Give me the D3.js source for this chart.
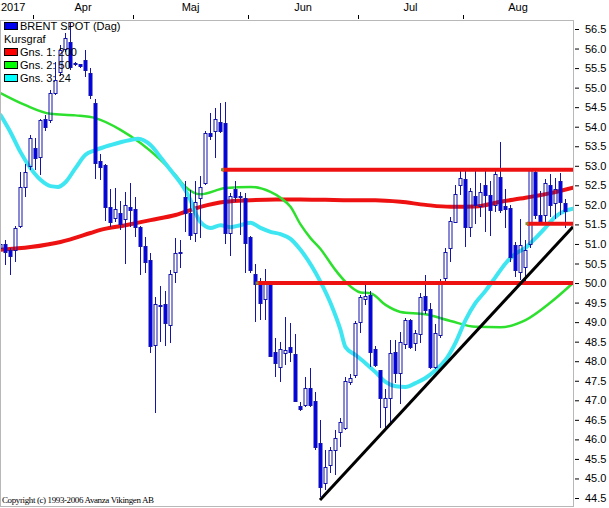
<!DOCTYPE html>
<style>
  body { margin: 0; background: white; }
  svg { display: block; font-family: Arial, "Liberation Sans", sans-serif; }
  .wick { stroke: #1414a8; stroke-width: 1; }
  .up { fill: none; stroke: #1414a8; }
  .down { fill: #0000f0; stroke: #1414a8; }
  .ma { fill: none; stroke-linejoin: round; stroke-linecap: round; }
  .yaxis text { font-size: 11px; fill: #000; }
  .yaxis line { stroke: #000; }
  .legend text { font-size: 11px; fill: #000; }
</style>
<body>
</body>
<script src="https://cdn.jsdelivr.net/npm/d3@7/dist/d3.min.js"></script>
<script>
  // trading days 23 Mar - 29 Aug 2017 (weekdays)
  const days = d3.utcDay.range(new Date(Date.UTC(2017, 2, 23)), new Date(Date.UTC(2017, 7, 30)))
    .filter(d => d.getUTCDay() !== 0 && d.getUTCDay() !== 6);

  const monthLabels = ['Apr', 'Maj', 'Jun', 'Jul', 'Aug'];
  const yearLabel = '2017';
  const yTicks = [44.5, 45.0, 45.5, 46.0, 46.5, 47.0, 47.5, 48.0, 48.5, 49.0, 49.5, 50.0,
                  50.5, 51.0, 51.5, 52.0, 52.5, 53.0, 53.5, 54.0, 54.5, 55.0, 55.5, 56.0, 56.5];

  const open = [
    50.9, 51.0, 50.85, 50.85, 51.45, 52.45, 53.0, 53.45, 53.23, 54.2,
    54.17, 54.86, 55.4, 56.0, 56.17, 55.6, 55.6, 55.7, 55.37, 54.6,
    53.13, 53.02, 51.95, 51.66, 51.8, 51.63, 51.95, 51.9, 51.43, 50.95,
    50.6, 48.41, 49.45, 49.46, 48.93, 50.29, 50.8, 52.2, 51.8, 51.28,
    52.17, 52.56, 53.85, 53.9, 54.12, 54.1, 51.28, 52.4, 52.23, 52.18,
    51.18, 50.23, 50.0, 49.6, 50.03, 48.24, 47.85, 48.2, 48.36, 48.18,
    46.85, 46.88, 47.31, 46.98, 45.9, 44.89, 45.34, 45.73, 46.2, 46.3,
    47.47, 47.64, 49.0, 49.6, 49.7, 48.3, 47.77, 46.82, 47.05, 48.23,
    47.7, 48.43, 49.05, 48.47, 48.7, 49.67, 49.33, 47.85, 48.67, 50.13,
    50.9, 51.55, 52.5, 52.66, 51.43, 52.23, 51.97, 52.5, 52.25, 52.0,
    52.72, 51.97, 51.93, 50.98, 50.27, 50.4, 51.0, 52.85, 51.73, 51.74,
    52.5, 52.05, 52.6, 52.06
  ];
  const close = [
    51.0, 50.8, 50.7, 51.4, 52.45, 52.85, 53.7, 53.2, 54.17, 53.98,
    54.86, 55.2, 55.96, 56.27, 55.53, 55.62, 55.55, 55.45, 54.8, 53.08,
    52.98, 51.95, 51.56, 51.9, 51.5, 52.0, 51.88, 51.43, 50.95, 50.54,
    48.39, 49.46, 49.4, 48.98, 50.23, 50.77, 50.77, 51.8, 51.23, 52.07,
    52.46, 53.85, 53.75, 54.2, 53.9, 51.28, 52.23, 52.2, 52.2, 51.02,
    50.33, 49.97, 49.5, 50.0, 48.13, 47.95, 48.3, 48.28, 48.23, 46.98,
    46.77, 47.31, 46.88, 45.8, 44.78, 45.3, 45.73, 46.03, 46.45, 47.5,
    47.57, 48.97, 49.65, 49.67, 48.24, 47.9, 47.06, 47.05, 48.2, 47.7,
    48.5, 49.05, 48.37, 48.73, 49.65, 49.3, 47.85, 48.73, 50.0, 50.8,
    51.6, 52.27, 52.7, 51.43, 52.35, 52.0, 52.33, 52.25, 51.87, 52.8,
    51.87, 51.9, 50.67, 50.33, 50.97, 50.85, 52.9, 51.73, 51.56, 52.55,
    52.0, 52.4, 52.07, 51.85
  ];
  const high = [
    51.15, 51.1, 50.9, 51.45, 52.85, 53.05, 53.8, 53.7, 54.2, 54.3,
    54.95, 55.66, 56.1, 56.4, 56.65, 55.65, 55.6, 55.96, 55.5, 54.7,
    53.3, 53.05, 52.4, 52.43, 52.1, 52.33, 52.56, 52.2, 51.45, 51.17,
    50.77, 49.64, 49.92, 49.8, 50.34, 51.15, 51.1, 52.6, 52.38, 52.6,
    52.74, 53.9, 54.35, 54.48, 54.6, 54.63, 52.3, 52.6, 52.33, 52.3,
    51.2, 50.5, 50.13, 50.35, 50.05, 48.6, 48.5, 49.13, 48.97, 48.7,
    46.95, 47.6, 47.82, 47.2, 46.5, 45.73, 45.8, 46.25, 46.55, 47.6,
    47.68, 49.03, 49.7, 49.95, 49.8, 48.4, 47.77, 47.3, 48.55, 48.55,
    48.75, 49.1, 49.08, 48.8, 49.75, 50.2, 49.5, 48.95, 50.1, 50.9,
    51.7, 52.5, 52.9, 52.93, 52.44, 52.9, 52.56, 52.9, 52.6, 52.9,
    53.6, 52.4, 52.0, 51.05, 51.65, 51.1, 52.95, 52.93, 52.35, 52.65,
    52.8, 52.7, 52.82, 52.15
  ];
  const low = [
    50.5, 50.45, 50.2, 50.55, 51.4, 52.2, 52.9, 52.9, 52.76, 53.9,
    54.1, 54.8, 55.3, 55.9, 55.45, 55.55, 55.5, 55.27, 54.7, 52.65,
    52.64, 51.6, 51.43, 51.56, 51.35, 50.5, 51.43, 51.17, 50.2, 50.26,
    48.2, 46.67, 48.49, 48.4, 48.46, 50.0, 50.38, 51.3, 51.1, 51.05,
    51.15, 52.5, 53.65, 53.2, 53.85, 51.0, 50.7, 52.07, 51.23, 50.26,
    50.26, 49.0, 49.06, 49.06, 48.1, 47.6, 47.47, 47.9, 47.98, 46.95,
    46.73, 46.83, 46.83, 45.73, 44.53, 44.7, 45.13, 45.1, 45.8, 46.25,
    47.4, 47.57, 48.72, 49.45, 47.85, 47.85, 46.3, 46.25, 46.4, 47.44,
    46.9, 48.3, 48.3, 48.25, 48.47, 49.22, 47.8, 47.8, 48.6, 50.0,
    50.55, 51.55, 52.25, 50.92, 51.18, 51.5, 51.7, 51.3, 51.2, 51.82,
    51.8, 51.4, 50.55, 50.15, 50.07, 50.0, 50.9, 51.65, 51.5, 51.5,
    51.7, 51.65, 51.75, 51.4
  ];

  // moving averages (day index, value)
  const ma200Day = [0, 6, 12, 18, 20, 25, 30, 35, 40, 45, 50, 55, 60, 65, 70, 75, 80, 85, 90, 95, 100, 105, 110, 114.5];
  const ma200 = [50.85, 50.92, 51.05, 51.28, 51.36, 51.48, 51.61, 51.74, 51.95, 52.08, 52.12, 52.14, 52.14,
                 52.13, 52.12, 52.12, 52.08, 52.0, 51.95, 51.96, 52.08, 52.18, 52.3, 52.44];

  const ma50Day = [0, 5, 10, 15, 19, 24, 28, 32, 35, 37, 40, 45, 50, 54, 56, 58, 60, 62, 64, 67, 69, 72, 74,
                   77, 80, 85, 90, 95, 100, 105, 110, 114.5];
  const ma50 = [54.86, 54.55, 54.33, 54.29, 54.22, 53.92, 53.58, 53.15, 52.76, 52.46, 52.27, 52.43, 52.46,
                52.33, 52.18, 51.95, 51.5, 51.15, 50.87, 50.33, 50.03, 49.76, 49.74, 49.44, 49.26, 49.2,
                49.03, 48.88, 48.87, 49.05, 49.5, 50.0];

  const ma24Day = [0, 2, 4, 6, 8, 10, 11.5, 13, 15, 17, 19, 22, 26, 27.5, 30, 32, 34, 36, 38, 39, 40, 42, 44,
                   46, 48, 50, 52, 54, 56, 58, 60, 64, 66, 68, 69, 71, 73, 75, 77, 79, 81, 83, 85, 87, 89,
                   91, 93, 95, 97, 99, 101, 103, 105, 107, 109, 111, 113, 114.5];
  const ma24 = [54.3, 53.86, 53.35, 52.94, 52.64, 52.48, 52.46, 52.58, 52.94, 53.28, 53.4, 53.53, 53.66,
                53.69, 53.53, 53.22, 52.89, 52.56, 52.12, 51.79, 51.56, 51.41, 51.48, 51.43, 51.48, 51.54,
                51.41, 51.31, 51.25, 51.13, 50.85, 50.03, 49.49, 48.8, 48.36, 48.16, 47.95, 47.72, 47.47,
                47.36, 47.34, 47.44, 47.57, 47.77, 48.03, 48.47, 49.05, 49.49, 49.8, 50.15, 50.5, 50.75,
                50.9, 51.15, 51.42, 51.7, 51.85, 51.9];

  // drawn support / resistance and trend lines (day index, price)
  const hLines = [
    {from: 44.4, to: 114.5, price: 52.9},
    {from: 51.3, to: 114.5, price: 50.0},
    {from: 105.3, to: 114.5, price: 51.52},
  ];
  const trend = [{day: 63.9, price: 44.45}, {day: 114.5, price: 51.44}];

  const legendItems = [
    {label: 'BRENT SPOT (Dag)', color: '#0000f0'},
    {label: 'Kursgraf', color: null},
    {label: 'Gns. 1: 200', color: '#ff0000'},
    {label: 'Gns. 2: 50', color: '#00ff00'},
    {label: 'Gns. 3: 24', color: '#00ffff'},
  ];

  const W = 609, H = 508;
  const plot = {l: 0, t: 20, r: 573, b: 507};

  const svg = d3.select('body').append('svg')
    .attr('width', W)
    .attr('height', H);

  // index -> candle centre
  const x = d3.scaleLinear().domain([0, 114]).range([0.5, 570.5]);
  const y = d3.scaleLinear().domain([44.5, 56.5]).range([498, 29]);

  svg.append('clipPath').attr('id', 'clip')
    .append('rect')
    .attr('x', plot.l).attr('y', plot.t)
    .attr('width', plot.r - plot.l).attr('height', plot.b - plot.t);

  const g = svg.append('g').attr('clip-path', 'url(#clip)');

  // moving averages
  const line = d3.line()
    .x(d => x(d[0]))
    .y(d => y(d[1]))
    .curve(d3.curveMonotoneX);

  const mas = [
    {day: ma200Day, val: ma200, color: '#ee1111', w: 4},
    {day: ma50Day, val: ma50, color: '#2ee02e', w: 2.5},
    {day: ma24Day, val: ma24, color: '#3ee6f2', w: 4},
  ];
  g.append('g').selectAll('path')
    .data(mas)
    .join('path')
    .attr('class', 'ma')
    .attr('stroke', d => d.color)
    .attr('stroke-width', d => d.w)
    .attr('d', d => line(d.day.map((t, i) => [t, d.val[i]])));

  // candles
  const candles = days.map((d, i) => ({i, o: open[i], h: high[i], l: low[i], c: close[i]}));
  const cx = d => Math.floor(x(d.i)) + 0.5;
  const bodyTop = d => Math.round(y(Math.max(d.o, d.c)));
  const bodyBot = d => Math.round(y(Math.min(d.o, d.c)));

  const cg = g.append('g');
  // upper and lower wick, kept outside the body
  cg.selectAll('line.hi')
    .data(candles)
    .join('line')
    .attr('class', 'wick hi')
    .attr('x1', cx).attr('x2', cx)
    .attr('y1', d => Math.round(y(d.h)))
    .attr('y2', d => bodyTop(d));
  cg.selectAll('line.lo')
    .data(candles)
    .join('line')
    .attr('class', 'wick lo')
    .attr('x1', cx).attr('x2', cx)
    .attr('y1', d => bodyBot(d) + 1)
    .attr('y2', d => Math.round(y(d.l)));

  cg.selectAll('rect')
    .data(candles)
    .join('rect')
    .attr('class', d => d.c >= d.o ? 'up' : 'down')
    .attr('x', d => cx(d) - 1.5)
    .attr('width', 3)
    .attr('y', d => bodyTop(d) + 0.5)
    .attr('height', d => Math.max(1, bodyBot(d) - bodyTop(d)));

  // support / resistance lines
  g.append('g').selectAll('line')
    .data(hLines)
    .join('line')
    .attr('x1', d => x(d.from)).attr('x2', d => x(d.to))
    .attr('y1', d => y(d.price)).attr('y2', d => y(d.price))
    .attr('stroke', '#ee1111')
    .attr('stroke-width', 4);

  g.append('g').selectAll('rect')
    .data(hLines)
    .join('rect')
    .attr('x', d => x(d.from) - 1.5).attr('y', d => y(d.price) - 1.5)
    .attr('width', 3).attr('height', 3)
    .attr('fill', '#8a8a30');

  g.append('path')
    .attr('d', d3.line().x(d => x(d.day)).y(d => y(d.price))(trend))
    .attr('stroke', '#000')
    .attr('stroke-width', 3)
    .attr('fill', 'none');

  // plot frame
  svg.append('rect')
    .attr('x', plot.l + 0.5).attr('y', plot.t + 0.5)
    .attr('width', plot.r - plot.l).attr('height', plot.b - plot.t - 1)
    .attr('fill', 'none')
    .attr('stroke', '#b8b8b8');

  // right axis
  svg.append('g')
    .attr('class', 'yaxis')
    .attr('transform', `translate(${plot.r + 2}, 0)`)
    .call(d3.axisRight(y)
      .tickValues(yTicks)
      .tickFormat(d3.format('.1f'))
      .tickSize(4)
      .tickPadding(6))
    .call(a => a.select('.domain').remove());

  // top month axis
  const monthAxis = svg.append('g').attr('class', 'yaxis');
  const monthStarts = [];
  days.forEach((d, i) => {
    if (i > 0 && d.getUTCMonth() !== days[i - 1].getUTCMonth()) monthStarts.push(i);
  });
  const monthEdges = monthStarts.map(i => x(i - 0.5));
  monthAxis.selectAll('line')
    .data(monthEdges)
    .join('line')
    .attr('x1', d => Math.round(d) + 0.5).attr('x2', d => Math.round(d) + 0.5)
    .attr('y1', 15).attr('y2', 19);
  monthAxis.selectAll('text.m')
    .data(monthLabels)
    .join('text')
    .attr('class', 'm')
    .attr('x', (d, i) => ((monthEdges[i]) + (i + 1 < monthEdges.length ? monthEdges[i + 1] : plot.r)) / 2)
    .attr('y', 11)
    .attr('text-anchor', 'middle')
    .text(d => d);
  monthAxis.append('text')
    .attr('x', 1).attr('y', 11)
    .text(yearLabel);

  // legend
  const legend = svg.append('g').attr('class', 'legend');
  const rows = legend.selectAll('g')
    .data(legendItems)
    .join('g')
    .attr('transform', (d, i) => `translate(4, ${30 + i * 13})`);
  rows.filter(d => d.color)
    .append('rect')
    .attr('x', 0.5).attr('y', -7.5)
    .attr('width', 13).attr('height', 7)
    .attr('fill', d => d.color)
    .attr('stroke', '#000');
  rows.append('text')
    .attr('x', d => d.color ? 16 : 0)
    .attr('y', 0)
    .text(d => d.label);

  svg.append('text')
    .attr('x', 2).attr('y', 503)
    .attr('font-family', '"Liberation Serif", "Times New Roman", serif')
    .attr('font-size', 9)
    .attr('textLength', 152)
    .text('Copyright (c) 1993-2006 Avanza Vikingen AB');
</script>
